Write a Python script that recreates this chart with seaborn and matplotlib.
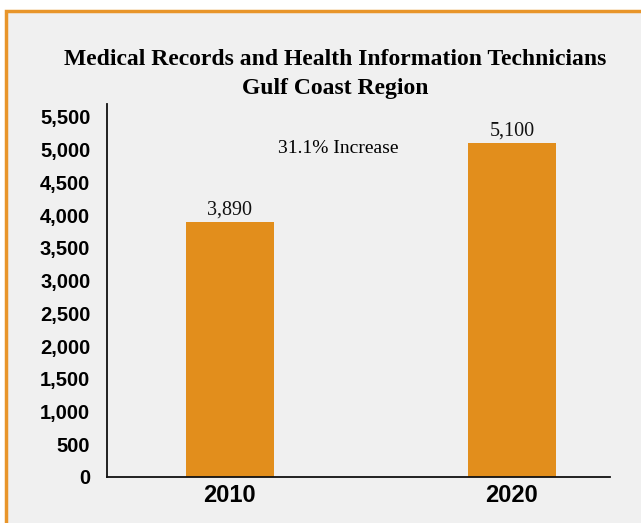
import numpy as np
import pandas as pd
import matplotlib
matplotlib.use("Agg")
import matplotlib.pyplot as plt
import seaborn as sns
from matplotlib.patches import Rectangle

years = ["2010", "2020"]
workers = [3890, 5100]
bar_labels = ["3,890", "5,100"]
y_ticks = [0, 500, 1000, 1500, 2000, 2500, 3000, 3500, 4000, 4500, 5000, 5500]
note = "31.1% Increase"
title = "Medical Records and Health Information Technicians\nGulf Coast Region"

bar_color = "#E28E1C"
frame_color = "#E8952A"
bg = "#F0F0F0"

sns.set_style("white")
plt.rcParams['font.family'] = ['Liberation Sans Narrow', 'Liberation Sans', 'DejaVu Sans']

df = pd.DataFrame({"year": years, "workers": workers})

fig = plt.figure(figsize=(6.41, 5.23), dpi=100, facecolor="white")
# orange frame behind everything
fig.patches.append(Rectangle((5.5 / 641, -0.1), 1.2, 1 - 11.5 / 523 + 0.1,
                             transform=fig.transFigure, facecolor=bg,
                             edgecolor=frame_color, linewidth=2.5, zorder=-10))

ax = fig.add_axes([107 / 641, 1 - 477 / 523, (610 - 107) / 641, (477 - 104) / 523])
ax.set_facecolor("none")

sns.barplot(data=df, x="year", y="workers", color=bar_color, width=0.31,
            saturation=1, linewidth=0, ax=ax)

ax.set_xlim(-0.436, 1.348)
ax.set_ylim(0, 5695)
ax.set_yticks(y_ticks)
ax.set_yticklabels([f"{v:,}" for v in y_ticks], fontsize=14.5, fontweight="bold",
                   color="black")
ax.set_xticks([0, 1])
ax.set_xticklabels(years, fontsize=17, fontweight="bold", color="black")
ax.tick_params(axis="y", length=0, pad=12)
ax.tick_params(axis="x", length=0, pad=5)
ax.set_xlabel("")
ax.set_ylabel("")

for s in ["top", "right"]:
    ax.spines[s].set_visible(False)
for s in ["left", "bottom"]:
    ax.spines[s].set_color("#111111")
    ax.spines[s].set_linewidth(1.3)

serif = ['Liberation Serif', 'DejaVu Serif']
for i, (v, lab) in enumerate(zip(workers, bar_labels)):
    ax.text(i, v + 40, lab, ha="center", va="bottom", fontsize=14.5,
            family=serif, color="#111111")

ax.text(0.383, 5020, note, ha="center", va="center", fontsize=14,
        family=serif, color="black")

fig.text(335 / 641, 1 - 74 / 523, title, ha="center", va="center",
         fontsize=17, fontweight="bold", family=serif, linespacing=1.55,
         color="black")

fig.savefig("out.png", dpi=100, facecolor=fig.get_facecolor())
